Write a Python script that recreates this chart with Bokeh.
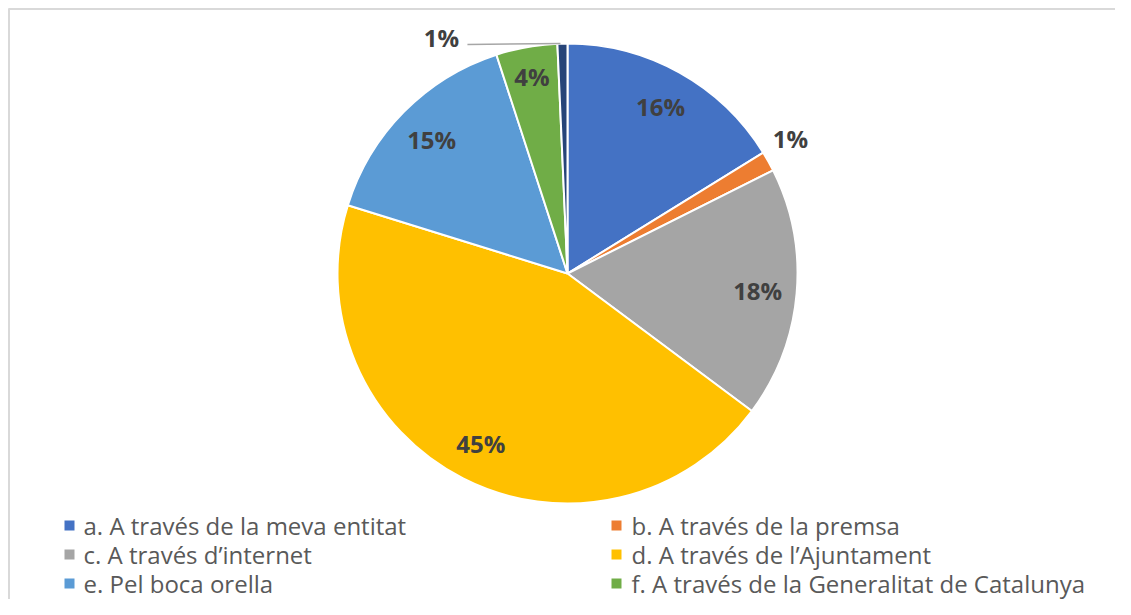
import numpy as np
from bokeh.plotting import figure
from bokeh.models import Range1d
from bokeh.core.properties import value
from bokeh.embed import file_html
from bokeh.resources import INLINE

# ---- data ----
categories = [
    "a. A través de la meva entitat",
    "b. A través de la premsa",
    "c. A través d’internet",
    "d. A través de l’Ajuntament",
    "e. Pel boca orella",
    "f. A través de la Generalitat de Catalunya",
    "g.",
]
shares = [16.2, 1.4, 17.6, 44.6, 15.2, 4.3, 0.7]
colors = ["#4472C4", "#ED7D31", "#A5A5A5", "#FFC000", "#5B9BD5", "#70AD47", "#264478"]
legend_count = 6  # only the first six entries are visible in the legend

# ---- layout ----
W, H = 1115, 599
cx, cy, R = 567, H - 273, 230
FONT = value("Open Sans")

p = figure(width=W, height=H, output_backend="svg", toolbar_location=None,
           x_range=Range1d(0, W), y_range=Range1d(0, H),
           x_axis_type=None, y_axis_type=None, min_border=0)
p.grid.visible = False
p.outline_line_color = None
p.background_fill_color = "white"
p.border_fill_color = "white"

# chart-area border (top and left visible; rest is cropped)
p.line(x=[8.5, 8.5], y=[0, H - 8], line_color="#d9d9d9", line_width=2)
p.line(x=[8, W], y=[H - 8.5, H - 8.5], line_color="#d9d9d9", line_width=2)

frac = np.array(shares) / np.sum(shares)
cum = np.concatenate([[0.0], np.cumsum(frac)])
start = np.pi / 2 - 2 * np.pi * cum[:-1]
end = np.pi / 2 - 2 * np.pi * cum[1:]
mid = (start + end) / 2

p.wedge(x=cx, y=cy, radius=R, start_angle=start, end_angle=end, direction="clock",
        fill_color=colors, line_color="white", line_width=2)

# data labels
labels = [f"{round(v)}%" for v in shares]
lx, ly = [], []
for i, m in enumerate(mid):
    if i == 1:
        r = 1.13 * R
        lx.append(cx + r * np.cos(m) - 4); ly.append(cy + r * np.sin(m) + 8)
    elif i == len(shares) - 1:
        ox, oy = cx + R * np.cos(m), cy + R * np.sin(m)
        lx.append(ox - 121); ly.append(oy + 6)
        p.line(x=[ox - 95, ox - 2], y=[oy - 1, oy], line_color="#a6a6a6", line_width=1.5)
    else:
        r = (0.87 if frac[i] < 0.06 else 0.83) * R
        lx.append(cx + r * np.cos(m)); ly.append(cy + r * np.sin(m))

p.text(x=lx, y=ly, text=labels, text_align="center", text_baseline="middle",
       text_font=FONT, text_font_style="bold", text_font_size="24px", text_color="#404040")

# legend (two columns, three rows)
col_marker_x = [69, 616]
col_text_x = [83, 631]
row_y = [H - 525, H - 554, H - 583]
mx, my, tx, ty, mc, tt = [], [], [], [], [], []
for i in range(legend_count):
    c, r = i % 2, i // 2
    mx.append(col_marker_x[c]); my.append(row_y[r])
    tx.append(col_text_x[c]); ty.append(row_y[r])
    mc.append(colors[i]); tt.append(categories[i])

p.scatter(x=mx, y=my, marker="square", size=10, fill_color=mc, line_color=None)
p.text(x=tx, y=ty, text=tt, text_align="left", text_baseline="middle",
       text_font=FONT, text_font_size="24px", text_color="#595959")

open("out.html", "w").write(file_html(p, INLINE))
